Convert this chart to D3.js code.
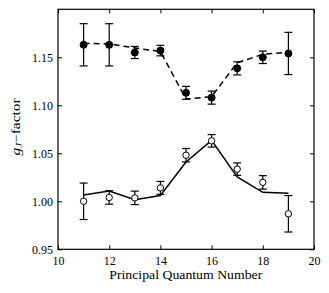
<!DOCTYPE html>
<html>
<head>
<meta charset="utf-8">
<script src="https://cdn.jsdelivr.net/npm/d3@7"></script>
<style>
    body { margin: 0; background: #fff; }
    text { font-family: "Liberation Serif", "DejaVu Serif", serif; fill: #000; }
</style>
</head>
<body>
<svg id="chart"></svg>
<script>
// principal quantum number
let nValues = [11, 12, 13, 14, 15, 16, 17, 18, 19];

// upper series (filled markers, dashed theory)
let upperMeas = [1.163, 1.163, 1.155, 1.157, 1.113, 1.108, 1.1385, 1.150, 1.154];
let upperErr = [0.022, 0.022, 0.0063, 0.0055, 0.0067, 0.0068, 0.0068, 0.0065, 0.022];
let upperTheory = [1.1646, 1.164, 1.1597, 1.156, 1.1065, 1.109, 1.1444, 1.1531, 1.1552];

// lower series (open markers, solid theory)
let lowerMeas = [1.000, 1.004, 1.0036, 1.014, 1.048, 1.063, 1.0335, 1.0197, 0.987];
let lowerErr = [0.019, 0.007, 0.007, 0.0067, 0.007, 0.0065, 0.0065, 0.007, 0.019];
let lowerTheory = [1.0066, 1.0107, 1.0017, 1.006, 1.041, 1.0635, 1.0254, 1.0094, 1.0084];

let xTicks = [10, 12, 14, 16, 18, 20];
let yTicks = [0.95, 1.00, 1.05, 1.10, 1.15];

let width = 329;
let height = 293;
let margin = {left: 58, top: 9.3, right: 15, bottom: 43.7};
let fontFam = "Liberation Serif";

let svg = d3.select("#chart")
    .attr("width", width)
    .attr("height", height);

let x = d3.scaleLinear().domain([10, 20]).range([margin.left, width - margin.right]);
let y = d3.scaleLinear().domain([0.95, 1.20]).range([height - margin.bottom, margin.top]);

// axes: inward ticks on all four sides
svg.append("g")
    .attr("transform", `translate(0,${y(0.95)})`)
    .call(d3.axisBottom(x).tickValues(xTicks).tickSize(-4).tickPadding(7).tickFormat(d3.format("d")));
svg.append("g")
    .attr("transform", `translate(0,${y(1.20)})`)
    .call(d3.axisTop(x).tickValues(xTicks).tickSize(-4).tickFormat(""));
svg.append("g")
    .attr("transform", `translate(${x(10)},0)`)
    .call(d3.axisLeft(y).tickValues(yTicks).tickSize(-4).tickPadding(5).tickFormat(d3.format(".2f")));
svg.append("g")
    .attr("transform", `translate(${x(20)},0)`)
    .call(d3.axisRight(y).tickValues(yTicks).tickSize(-4).tickFormat(""));

svg.selectAll(".domain").remove();
svg.selectAll("g").attr("font-family", fontFam);
svg.selectAll(".tick line").attr("stroke", "#000").attr("stroke-width", 1);
svg.selectAll(".tick text").style("font-size", "12px").style("font-family", fontFam);

// frame
svg.append("rect")
    .attr("x", x(10))
    .attr("y", y(1.20))
    .attr("width", x(20) - x(10))
    .attr("height", y(0.95) - y(1.20))
    .attr("fill", "none")
    .attr("stroke", "#000")
    .attr("stroke-width", 1.2);

// theory lines
let line = d3.line().x(d => x(d[0])).y(d => y(d[1]));

svg.append("path")
    .datum(nValues.map((n, i) => [n, upperTheory[i]]))
    .attr("d", line)
    .attr("fill", "none")
    .attr("stroke", "#000")
    .attr("stroke-width", 1.5)
    .attr("stroke-dasharray", "6,4");

svg.append("path")
    .datum(nValues.map((n, i) => [n, lowerTheory[i]]))
    .attr("d", line)
    .attr("fill", "none")
    .attr("stroke", "#000")
    .attr("stroke-width", 1.5);

function drawErrorBars(meas, err, filled) {
    let g = svg.append("g");
    let pts = nValues.map((n, i) => ({n: n, v: meas[i], e: err[i]}));

    g.selectAll(".bar")
        .data(pts)
        .enter()
        .append("line")
            .attr("x1", d => x(d.n))
            .attr("x2", d => x(d.n))
            .attr("y1", d => y(d.v - d.e))
            .attr("y2", d => y(d.v + d.e))
            .attr("stroke", "#000")
            .attr("stroke-width", 1.2);

    // caps
    for (let side of [-1, 1]) {
        g.selectAll(".cap" + side)
            .data(pts)
            .enter()
            .append("line")
                .attr("x1", d => x(d.n) - 4)
                .attr("x2", d => x(d.n) + 4)
                .attr("y1", d => y(d.v + side * d.e))
                .attr("y2", d => y(d.v + side * d.e))
                .attr("stroke", "#000")
                .attr("stroke-width", 1.2);
    }

    g.selectAll("circle")
        .data(pts)
        .enter()
        .append("circle")
            .attr("cx", d => x(d.n))
            .attr("cy", d => y(d.v))
            .attr("r", filled ? 3.5 : 3.2)
            .attr("fill", filled ? "#000" : "#fff")
            .attr("stroke", "#000")
            .attr("stroke-width", 1);
}

drawErrorBars(upperMeas, upperErr, true);
drawErrorBars(lowerMeas, lowerErr, false);

// axis labels
svg.append("text")
    .attr("x", 185.8)
    .attr("y", 279)
    .attr("text-anchor", "middle")
    .style("font-size", "12px")
    .attr("textLength", 153)
    .attr("lengthAdjust", "spacingAndGlyphs")
    .text("Principal Quantum Number");

let ylab = svg.append("text")
    .attr("transform", `translate(19.5,127) rotate(-90)`)
    .attr("text-anchor", "middle")
    .attr("textLength", 57)
    .attr("lengthAdjust", "spacingAndGlyphs")
    .style("font-size", "12px");
ylab.append("tspan").style("font-style", "italic").text("g");
ylab.append("tspan").style("font-style", "italic").style("font-size", "8.5px").attr("dy", 2).text("J");
ylab.append("tspan").attr("dy", -2).text("\u2212factor");
</script>
</body>
</html>
